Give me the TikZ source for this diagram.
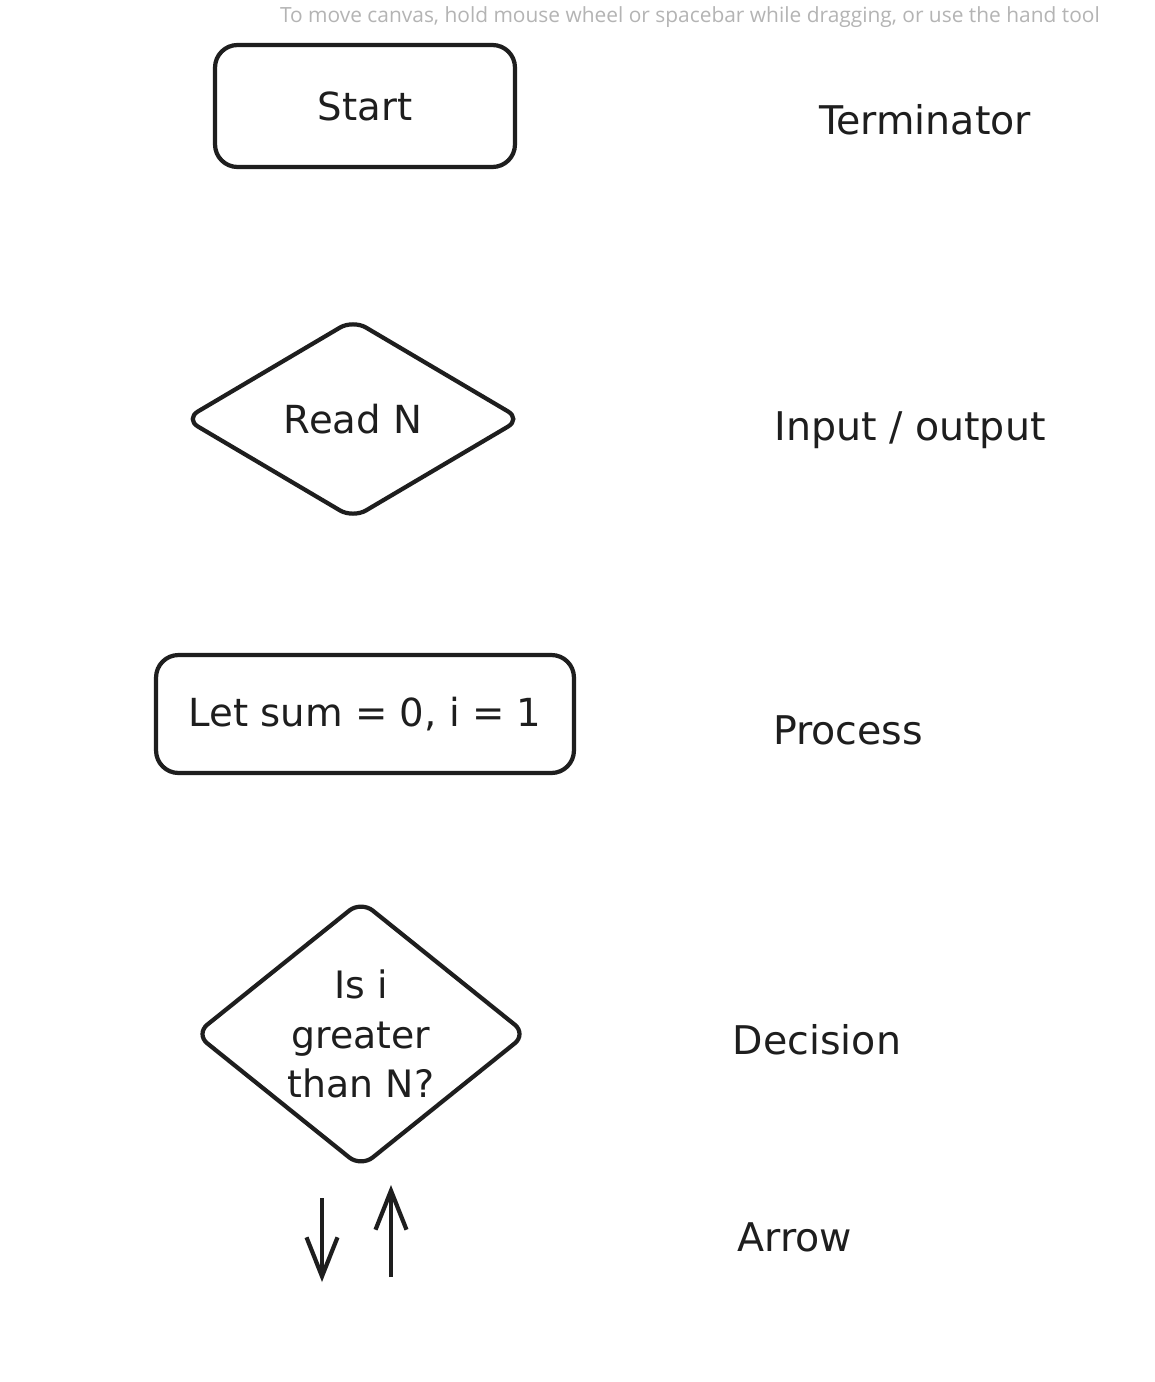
\documentclass[tikz,border=0pt]{standalone}
\usepackage{fontspec}
\setmainfont{DejaVu Sans}
\newfontfamily\hintfont{Open Sans}
\usetikzlibrary{arrows.meta,shapes.geometric}
\definecolor{ink}     {HTML}{1E1E1E}
\definecolor{hintgray}{HTML}{B4B4B4}
\tikzset{
  shapebox/.style ={draw=ink, line width=2.4pt, text=ink, align=center,
                    inner sep=0pt, font=\fontsize{22}{31}\selectfont},
  termbox/.style  ={shapebox, rounded corners=0.45cm,
                    minimum width=6cm, minimum height=2.44cm},
  procbox/.style  ={shapebox, rounded corners=0.45cm,
                    minimum width=8.36cm, minimum height=2.36cm},
  iobox/.style    ={shapebox, diamond, rounded corners=0.3cm},
  legend/.style   ={text=ink, font=\fontsize{22.5}{27}\selectfont},
  hint/.style     ={text=hintgray, font=\hintfont\fontsize{11.9}{15}\selectfont},
  arr/.style      ={-{Straight Barb[length=0.78cm,width=0.62cm]},
                    line width=2.4pt, draw=ink},
}

\begin{document}
\begin{tikzpicture}[x=0.02cm,y=-0.02cm]
  \useasboundingbox[fill=white] (0,0) rectangle (1155,1382);

  \node[hint,anchor=east] (tip) at (1106,17)
    {To move canvas, hold mouse wheel or spacebar while dragging, or use the hand tool};

  % shapes on the left
  \node[termbox] (start) at (365,106) {Start};
  \node[iobox,minimum width=6.75cm,minimum height=4.0cm] (readn) at (353,419) {Read N};
  \node[procbox] (letsum) at (365,714) {Let sum = 0, i = 1};
  \node[iobox,aspect=1.25,minimum width=6.65cm,minimum height=5.35cm,
        font=\fontsize{21.5}{28}\selectfont] (isgreater) at (361,1034)
    {Is i\\greater\\than N?};

  \coordinate (down1) at (322,1198);
  \coordinate (down2) at (322,1282);
  \coordinate (up1) at (391,1277);
  \coordinate (up2) at (391,1185);
  \draw[arr] (down1) -- (down2);
  \draw[arr] (up1) -- (up2);

  % names on the right
  \node[legend] (lterm) at (925,120) {Terminator};
  \node[legend] (lio) at (910,430) {Input / output};
  \node[legend] (lproc) at (848,730) {Process};
  \node[legend] (ldec) at (817,1040) {Decision};
  \node[legend] (larr) at (795,1237) {Arrow};
\end{tikzpicture}
\end{document}
